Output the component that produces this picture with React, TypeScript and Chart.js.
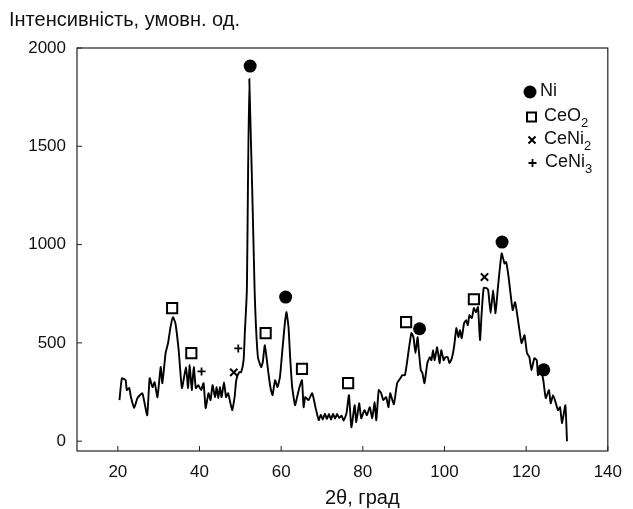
import React, { useEffect, useRef } from "react";
import { Chart, registerables } from "chart.js";

Chart.register(...registerables);

const FONT = "'Liberation Sans', Arial, sans-serif";

const yTitle = "Інтенсивність, умовн. од.";
const xTitle = "2θ, град";

const xTicks = [20, 40, 60, 80, 100, 120, 140];
const yTicks = [0, 500, 1000, 1500, 2000];

const angle = [
  20.4, 21, 21.9, 22.2, 22.8, 23.2, 24, 24.8, 26, 26.4, 27.2, 27.8, 28.5, 29, 29.7, 30.5, 30.9, 31.7, 32.3, 32.9,
  33.5, 34.1, 34.9, 35.7, 36.7, 37.2, 37.6, 38.1, 38.6, 39.1, 39.7, 40.4, 41, 41.5, 42.2, 42.7, 43.2, 43.8, 44.2, 44.6,
  45, 45.4, 46, 46.5, 47, 48, 48.6, 49, 49.7, 50.2, 50.8, 51.1, 51.6, 52.2, 53.5, 54.3, 55.1, 55.5, 56, 56.7,
  57.1, 57.5, 57.9, 58.5, 59.1, 59.7, 60.3, 60.9, 61.3, 61.8, 62.2, 62.7, 63.4, 63.9, 64.5, 65.1, 65.5, 65.9, 66.7, 67.6,
  68.4, 69.2, 69.7, 70.2, 70.7, 71.2, 71.7, 72.2, 72.7, 73.2, 73.7, 74.2, 74.8, 75.3, 76, 76.6, 77.2, 78, 78.4, 79.1,
  79.6, 80.4, 81, 81.7, 82.3, 82.9, 83.3, 83.9, 84.5, 85, 85.7, 86.3, 86.7, 87.6, 88.4, 89.2, 89.7, 90.3, 90.8, 91.3,
  91.9, 92.4, 92.9, 93.4, 93.7, 94.2, 94.6, 95.1, 95.8, 96.4, 96.8, 97.2, 97.6, 98.2, 98.8, 99.2, 99.8, 100.2, 100.8, 101.2,
  101.8, 102.4, 102.9, 103.4, 103.8, 104.2, 104.8, 105.3, 105.7, 106.1, 106.7, 107.2, 107.7, 108.2, 108.7, 109.1, 109.6, 110.3, 110.7, 111.3,
  111.9, 112.5, 113.1, 114, 114.7, 115.1, 115.7, 116.7, 117.3, 117.9, 118.6, 118.9, 119.6, 120.2, 120.8, 121.3, 122, 122.6, 122.9, 123.6,
  124.2, 124.8, 125.6, 126, 126.6, 127.2, 127.8, 128.3, 128.8, 129.6, 130,
];
const intensity = [
  209, 320, 310, 260, 270, 225, 168, 219, 244, 209, 132, 320, 275, 300, 224, 377, 295, 448, 499, 580,
  631, 600, 463, 270, 377, 270, 387, 260, 377, 270, 285, 260, 295, 168, 244, 209, 285, 224, 275, 219,
  275, 224, 300, 224, 244, 158, 224, 310, 351, 351, 412, 550, 768, 1842, 768, 427, 377, 402, 488, 377,
  310, 260, 234, 310, 275, 326, 463, 600, 656, 580, 427, 275, 183, 224, 275, 310, 173, 224, 209, 244,
  173, 107, 135, 110, 140, 112, 138, 110, 140, 115, 138, 118, 130, 105, 142, 234, 71, 183, 97, 193,
  117, 158, 132, 173, 117, 198, 107, 260, 244, 209, 224, 173, 244, 188, 295, 320, 336, 336, 397, 473,
  550, 529, 448, 529, 463, 361, 346, 295, 397, 427, 412, 463, 412, 478, 397, 463, 412, 427, 427, 397,
  422, 488, 575, 529, 565, 524, 600, 616, 590, 641, 626, 677, 656, 682, 514, 651, 779, 779, 768, 651,
  768, 651, 785, 955, 904, 911, 835, 667, 707, 631, 529, 499, 539, 448, 427, 361, 422, 412, 336, 361,
  310, 219, 260, 193, 234, 198, 158, 173, 92, 183, 0,
];

const niX = [52.4, 61.1, 93.9, 114.1, 124.3];
const niY = [1908, 733, 572, 1013, 363];
const ceo2X = [33.3, 38.0, 56.2, 65.1, 76.4, 90.6, 107.2];
const ceo2Y = [677, 448, 550, 368, 295, 606, 722];
const ceni2X = [48.4, 109.8];
const ceni2Y = [350, 835];
const ceni3X = [40.5, 49.5];
const ceni3Y = [355, 472];

const legendItems = [
  { base: "Ni", sub: "" },
  { base: "CeO", sub: "2" },
  { base: "CeNi", sub: "2" },
  { base: "CeNi", sub: "3" },
];

const zip = (xs: number[], ys: number[]) => xs.map((x, i) => ({ x, y: ys[i] }));

const framePlugin = {
  id: "frame",
  afterDraw(chart: any) {
    const { ctx, chartArea: a, scales } = chart;
    ctx.save();
    ctx.strokeStyle = "#222";
    ctx.lineWidth = 1.2;
    ctx.strokeRect(a.left, a.top, a.right - a.left, a.bottom - a.top);
    ctx.lineWidth = 1;
    ctx.beginPath();
    xTicks.forEach((v) => {
      const px = scales.x.getPixelForValue(v);
      ctx.moveTo(px, a.bottom);
      ctx.lineTo(px, a.bottom - 5);
    });
    yTicks.forEach((v) => {
      const py = scales.y.getPixelForValue(v);
      ctx.moveTo(a.left, py);
      ctx.lineTo(a.left + 5, py);
    });
    ctx.stroke();

    // titles
    ctx.fillStyle = "#111";
    ctx.textBaseline = "middle";
    ctx.textAlign = "left";
    ctx.font = `20px ${FONT}`;
    ctx.fillText(yTitle, 9, 20);
    ctx.fillText(xTitle, 325, 498);

    // legend
    const lx = 531;
    const ys = [92, 117, 140, 163];
    ctx.strokeStyle = "#000";
    ctx.fillStyle = "#000";
    ctx.beginPath();
    ctx.arc(lx - 1, ys[0], 6.5, 0, Math.PI * 2);
    ctx.fill();
    ctx.lineWidth = 2;
    ctx.strokeRect(lx - 4, ys[1] - 4.5, 9, 9);
    ctx.beginPath();
    ctx.moveTo(lx - 2.5, ys[2] - 3.5);
    ctx.lineTo(lx + 4.5, ys[2] + 3.5);
    ctx.moveTo(lx + 4.5, ys[2] - 3.5);
    ctx.lineTo(lx - 2.5, ys[2] + 3.5);
    ctx.stroke();
    ctx.beginPath();
    ctx.lineWidth = 1.8;
    ctx.moveTo(lx - 2.5, ys[3]);
    ctx.lineTo(lx + 5.5, ys[3]);
    ctx.moveTo(lx + 1.5, ys[3] - 4);
    ctx.lineTo(lx + 1.5, ys[3] + 4);
    ctx.stroke();

    const txs = [540, 544, 544, 545];
    legendItems.forEach((it, i) => {
      const tx = txs[i];
      ctx.font = `18px ${FONT}`;
      ctx.fillStyle = "#111";
      ctx.fillText(it.base, tx, ys[i] - 1);
      if (it.sub) {
        const w = ctx.measureText(it.base).width;
        ctx.font = `13px ${FONT}`;
        ctx.fillText(it.sub, tx + w, ys[i] + 6);
      }
    });
    ctx.restore();
  },
};

export default function App() {
  const ref = useRef<HTMLCanvasElement | null>(null);
  useEffect(() => {
    if (!ref.current) return;
    const chart = new Chart(ref.current, {
      type: "line",
      data: {
        datasets: [
          {
            type: "line",
            data: zip(angle, intensity),
            borderColor: "#000",
            borderWidth: 1.9,
            pointRadius: 0,
            tension: 0.15,
            fill: false,
          },
          {
            type: "scatter",
            data: zip(niX, niY),
            pointStyle: "circle",
            pointRadius: 6.5,
            backgroundColor: "#000",
            borderColor: "#000",
            borderWidth: 0,
          },
          {
            type: "scatter",
            data: zip(ceo2X, ceo2Y),
            pointStyle: "rect",
            pointRadius: 7.2,
            backgroundColor: "#fff",
            borderColor: "#000",
            borderWidth: 2,
          },
          {
            type: "scatter",
            data: zip(ceni2X, ceni2Y),
            pointStyle: "crossRot",
            pointRadius: 5.2,
            backgroundColor: "#000",
            borderColor: "#000",
            borderWidth: 2,
          },
          {
            type: "scatter",
            data: zip(ceni3X, ceni3Y),
            pointStyle: "cross",
            pointRadius: 4,
            backgroundColor: "#000",
            borderColor: "#000",
            borderWidth: 1.8,
          },
        ] as any,
      },
      options: {
        responsive: false,
        animation: false,
        layout: { padding: { left: 0, top: 48, right: 17, bottom: 0 } },
        plugins: { legend: { display: false }, tooltip: { enabled: false } },
        scales: {
          x: {
            type: "linear",
            min: 10,
            max: 140,
            afterBuildTicks: (axis: any) => {
              axis.ticks = xTicks.map((v) => ({ value: v }));
            },
            afterFit: (s: any) => {
              s.height = 58;
            },
            grid: { display: false, drawTicks: false },
            border: { display: false },
            ticks: {
              font: { family: FONT, size: 17 },
              color: "#111",
              padding: 11,
              maxRotation: 0,
              callback: (v: any) => String(v),
            },
          },
          y: {
            type: "linear",
            min: -50,
            max: 2000,
            afterBuildTicks: (axis: any) => {
              axis.ticks = yTicks.map((v) => ({ value: v }));
            },
            afterFit: (s: any) => {
              s.width = 77;
            },
            grid: { display: false, drawTicks: false },
            border: { display: false },
            ticks: {
              font: { family: FONT, size: 17 },
              color: "#111",
              padding: 11,
              callback: (v: any) => String(v),
            },
          },
        },
      },
      plugins: [framePlugin],
    });
    return () => chart.destroy();
  }, []);
  return (
    <div style={{ position: "absolute", left: 0, top: 0, width: 633, height: 509, background: "#fff" }}>
      <canvas ref={ref} width={633} height={509} />
    </div>
  );
}
